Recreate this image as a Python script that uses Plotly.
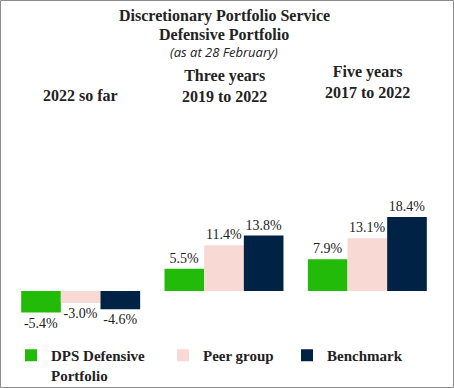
import plotly.graph_objects as go

categories = ["2022 so far", "Three years", "Five years"]
category_labels = ["2022 so far", "Three years<br>2019 to 2022", "Five years<br>2017 to 2022"]
series_names = ["DPS Defensive<br>Portfolio", "Peer group", "Benchmark"]
dps = [-5.4, 5.5, 7.9]
peer = [-3.0, 11.4, 13.1]
bench = [-4.6, 13.8, 18.4]

colors = ["#22BB0A", "#F9D9D3", "#002244"]
SERIF = "Liberation Serif"
TXT = "#222222"

# pixel layout helpers
W, H = 454, 388
ML, MR, MT, MB = 9, 15, 203, 65
PH = H - MT - MB
PW = W - ML - MR

def py(Y):  # pixel Y -> paper y
    return (H - MB - Y) / PH

def px(X):
    return (X - ML) / PW

fig = go.Figure()
legends = ["legend", "legend2", "legend3"]
for name, vals, col, lg in zip(series_names, [dps, peer, bench], colors, legends):
    fig.add_trace(go.Bar(
        x=categories, y=vals, name="<b>" + name.replace("<br>", "</b><br><b>") + "</b>",
        marker_color=col, marker_line_width=0,
        text=[f"{v:.1f}%" for v in vals], textposition="outside",
        textfont=dict(family=SERIF, size=14, color=TXT),
        cliponaxis=False, legend=lg,
    ))

annotations = [
    dict(text="<b>Discretionary Portfolio Service</b>", x=0.5, y=py(16), xref="paper", yref="paper",
         showarrow=False, font=dict(family=SERIF, size=16, color=TXT), yanchor="middle"),
    dict(text="<b>Defensive Portfolio</b>", x=0.5, y=py(34), xref="paper", yref="paper",
         showarrow=False, font=dict(family=SERIF, size=16, color=TXT), yanchor="middle"),
    dict(text="<i>(as at 28 February)</i>", x=0.5, y=py(52), xref="paper", yref="paper",
         showarrow=False, font=dict(family="Open Sans", size=13, color=TXT), yanchor="middle"),
]
cat_y = [py(95), py(86), py(82)]
for c, lab, yy in zip(categories, category_labels, cat_y):
    annotations.append(dict(text="<b>" + lab.replace("<br>", "</b><br><b>") + "</b>",
                            x=c, y=yy, xref="x", yref="paper", showarrow=False,
                            font=dict(family=SERIF, size=16, color=TXT), yanchor="middle",
                            align="center"))

leg_x = [px(11), px(163), px(287)]
legend_cfg = {}
for lg, lx in zip(legends, leg_x):
    legend_cfg[lg] = dict(x=lx, y=py(339), xanchor="left", yanchor="top", valign="top",
                          font=dict(family=SERIF, size=15, color=TXT),
                          bgcolor="rgba(0,0,0,0)", traceorder="normal", tracegroupgap=0)

fig.update_layout(
    width=W, height=H,
    margin=dict(l=ML, r=MR, t=MT, b=MB, autoexpand=False),
    paper_bgcolor="white", plot_bgcolor="white",
    barmode="group", bargap=0.17, bargroupgap=0,
    xaxis=dict(showticklabels=False, showgrid=False, zeroline=False, showline=False, ticks=""),
    yaxis=dict(range=[-8, 21.9], visible=False),
    annotations=annotations,
    showlegend=True,
    shapes=[dict(type="rect", xref="paper", yref="paper",
                 x0=px(0.5), x1=px(W - 0.5), y0=py(H - 0.5), y1=py(0.5),
                 line=dict(color="#8C8C8C", width=1), fillcolor="rgba(0,0,0,0)", layer="below")],
    **legend_cfg,
)

fig.write_html("out.html", config={"displayModeBar": False},
               post_script="document.body.style.margin='0';document.body.style.overflow='hidden';")
